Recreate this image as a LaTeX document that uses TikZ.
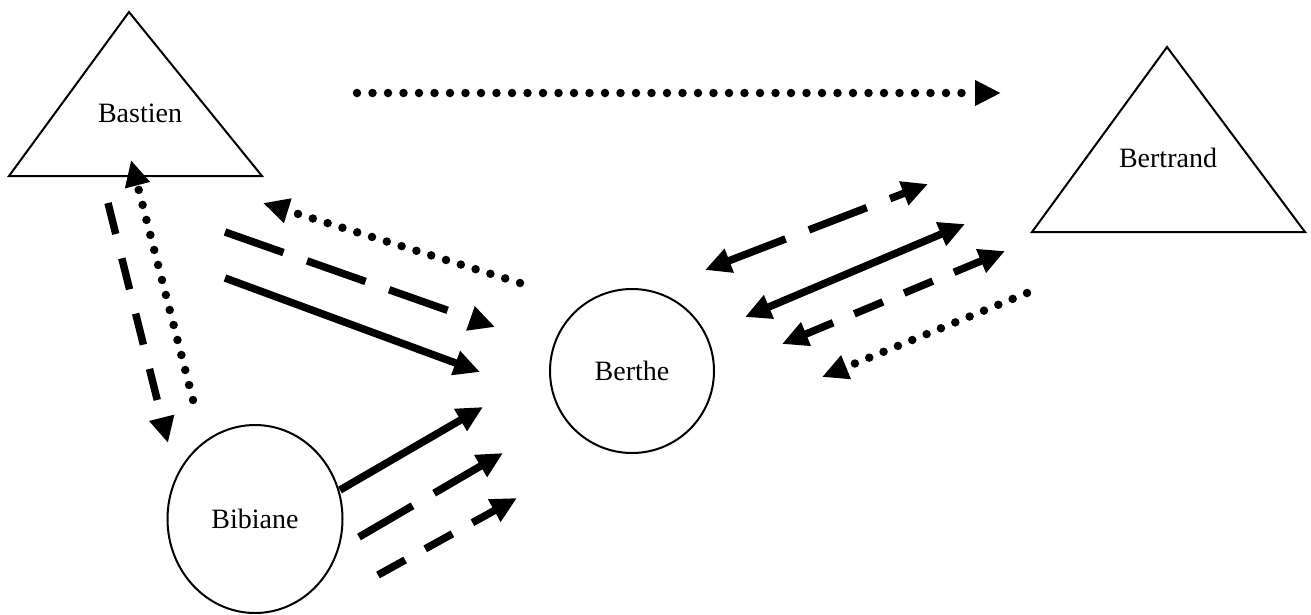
\documentclass[tikz,border=0pt]{standalone}
\usepackage{fontspec}
\setmainfont{Liberation Serif}
\usetikzlibrary{arrows.meta,shapes.geometric}

\tikzset{
  who/.style={font=\fontsize{28}{34}\selectfont},
  person/.style={who, ellipse, draw, line width=2pt, inner sep=0pt},
  team/.style={line width=2pt, line join=miter},
  onetip/.style={-{Triangle[length=26pt,width=24pt]}},
  twotips/.style={{Triangle[length=26pt,width=24pt]}-{Triangle[length=26pt,width=24pt]}},
  rel/.style={line width=7.5pt},
  dotrel/.style={line width=8.5pt, line cap=round, dash pattern=on 0pt off 15.5pt},
  longdash/.style={rel, dash pattern=on 62pt off 25pt},
  shortdash/.style={rel, dash pattern=on 31pt off 23pt},
}

\begin{document}
\begin{tikzpicture}[x=1pt,y=-1pt]
    \useasboundingbox (0,0) rectangle (1311,614);

    % the two groups
    \draw[team] (129,12) -- (262,176) -- (9,176) -- cycle;
    \node[who] (bastien) at (140,113) {Bastien};
    \draw[team] (1167,47) -- (1305,232) -- (1032,232) -- cycle;
    \node[who] (bertrand) at (1168,158) {Bertrand};

    % the two persons
    \node[person, minimum width=164pt, minimum height=164pt] (berthe) at (632,371) {Berthe};
    \node[person, minimum width=175pt, minimum height=188pt] (bibiane) at (255,519) {Bibiane};

    % free ends of the relations
    \coordinate (top-s) at (357,93);   \coordinate (top-e) at (1001,93);
    \coordinate (bb-dot-s) at (193,400); \coordinate (bb-dot-e) at (131,160);
    \coordinate (bb-dash-s) at (108,203); \coordinate (bb-dash-e) at (168,443);
    \coordinate (be-dot-s) at (520,283); \coordinate (be-dot-e) at (263,203);
    \coordinate (be-dash-s) at (225,232); \coordinate (be-dash-e) at (495,327);
    \coordinate (be-line-s) at (225,278); \coordinate (be-line-e) at (480,372);
    \coordinate (bt-dash-s) at (705,270); \coordinate (bt-dash-e) at (928,184);
    \coordinate (bt-line-s) at (745,317); \coordinate (bt-line-e) at (965,224);
    \coordinate (bt-short-s) at (782,344); \coordinate (bt-short-e) at (1005,251);
    \coordinate (bt-dot-s) at (1027,293); \coordinate (bt-dot-e) at (822,377);
    \coordinate (bi-line-s) at (340,490); \coordinate (bi-line-e) at (483,407);
    \coordinate (bi-dash-s) at (359,537); \coordinate (bi-dash-e) at (503,453);
    \coordinate (bi-short-s) at (378,575); \coordinate (bi-short-e) at (517,498);

    \draw[dotrel, onetip] (top-s) -- (top-e);
    \draw[dotrel, onetip] (bb-dot-s) -- (bb-dot-e);
    \draw[rel, dash pattern=on 32pt off 25pt, onetip] (bb-dash-s) -- (bb-dash-e);
    \draw[dotrel, onetip] (be-dot-s) -- (be-dot-e);
    \draw[longdash, onetip] (be-dash-s) -- (be-dash-e);
    \draw[rel, onetip] (be-line-s) -- (be-line-e);
    \draw[longdash, twotips] (bt-dash-s) -- (bt-dash-e);
    \draw[rel, twotips] (bt-line-s) -- (bt-line-e);
    \draw[shortdash, twotips] (bt-short-s) -- (bt-short-e);
    \draw[dotrel, onetip] (bt-dot-s) -- (bt-dot-e);
    \draw[rel, onetip] (bi-line-s) -- (bi-line-e);
    \draw[longdash, onetip] (bi-dash-s) -- (bi-dash-e);
    \draw[shortdash, onetip] (bi-short-s) -- (bi-short-e);
\end{tikzpicture}
\end{document}
